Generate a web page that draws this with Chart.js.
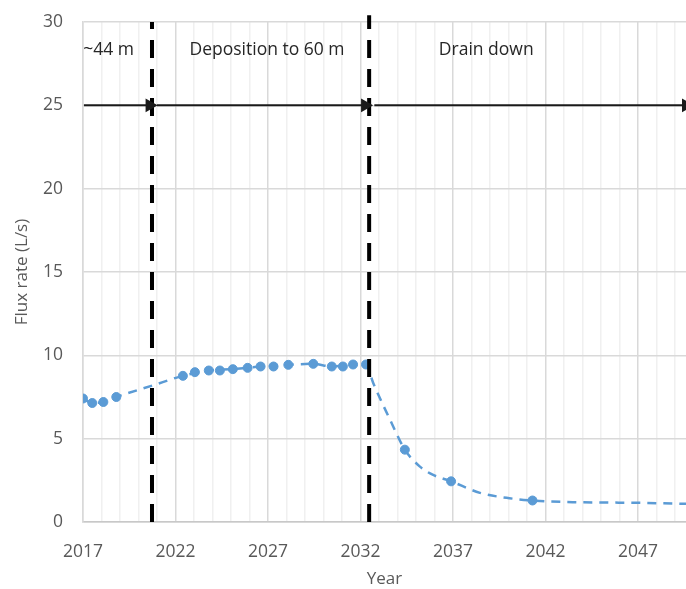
<!DOCTYPE html>
<html>
<head>
<meta charset="utf-8">
<script src="https://cdn.jsdelivr.net/npm/chart.js@4"></script>
<style>
  html, body { margin: 0; padding: 0; background: #fff; }
  #wrap { width: 686px; height: 589px; }
</style>
</head>
<body>
<div id="wrap"><canvas id="fluxChart" width="686" height="589"></canvas></div>
<script>
// Sampled flux points (markers)
const markerYears = [2017.0, 2017.5, 2018.1, 2018.8, 2022.4, 2023.05, 2023.8, 2024.4, 2025.1, 2025.9, 2026.6, 2027.3, 2028.1, 2029.45, 2030.45, 2031.05, 2031.6, 2032.3, 2034.4, 2036.9, 2041.3];
const markerFlux = [7.41, 7.14, 7.2, 7.5, 8.77, 8.99, 9.09, 9.09, 9.17, 9.25, 9.33, 9.33, 9.43, 9.49, 9.33, 9.33, 9.45, 9.45, 4.34, 2.44, 1.29];

// Dashed trend curve
const trendYears = [2017.0, 2017.5, 2018.1, 2018.8, 2020.76, 2022.4, 2023.8, 2025.1, 2026.6, 2028.1, 2029.45, 2030.45, 2031.6, 2032.3, 2032.69, 2033.6, 2034.4, 2035.2, 2035.9, 2036.9, 2038.46, 2039.9, 2041.3, 2043.5, 2047.1, 2049.6];
const trendFlux = [7.41, 7.14, 7.2, 7.5, 8.19, 8.77, 9.09, 9.17, 9.33, 9.43, 9.49, 9.33, 9.45, 9.45, 8.34, 6.14, 4.34, 3.34, 2.84, 2.44, 1.75, 1.45, 1.29, 1.19, 1.15, 1.09];

// Phase boundaries and phase arrows (year ranges at flux 25)
const phaseBoundaries = [2020.73, 2032.47];
const arrowStarts = [2017.05, 2021.0, 2032.75];
const arrowEnds = [2020.6, 2032.25, 2049.6];
const arrowLevel = 25;

// Phase names
const phaseNames = ['~44 m', 'Deposition to 60 m', 'Drain down'];
const phaseNameYears = [2018.38, 2026.95, 2038.8];
const phaseNameLevel = 28.3;

// Axis ticks
const xMin = 2017, xMax = 2049.6;
const yTicks = [0, 5, 10, 15, 20, 25, 30];

const toPoints = (xs, ys) => xs.map((x, i) => ({ x: x, y: ys[i] }));

const datasets = [];
datasets.push({
    label: 'trend',
    data: toPoints(trendYears, trendFlux),
    borderColor: '#5b9bd5',
    borderWidth: 2.5,
    borderDash: [9, 7],
    pointRadius: 0,
    cubicInterpolationMode: 'monotone',
    fill: false,
    order: 3
});
datasets.push({
    label: 'flux',
    data: toPoints(markerYears, markerFlux),
    showLine: false,
    pointRadius: 4.5,
    pointBackgroundColor: '#5b9bd5',
    pointBorderColor: '#5b9bd5',
    order: 2
});
phaseBoundaries.forEach((yr, i) => {
    datasets.push({
        label: 'boundary' + i,
        data: [{ x: yr, y: 0 }, { x: yr, y: i === 1 ? 30.4 : 30 }],
        borderColor: '#000',
        borderWidth: 4,
        borderDash: [18, 11],
        pointRadius: 0,
        clip: false,
        order: 1
    });
});
arrowStarts.forEach((s, i) => {
    datasets.push({
        label: 'arrow' + i,
        data: [{ x: s, y: arrowLevel }, { x: arrowEnds[i], y: arrowLevel }],
        borderColor: '#1a1a1a',
        borderWidth: 2,
        pointStyle: 'triangle',
        rotation: 90,
        pointRadius: [0, 6],
        pointBackgroundColor: '#1a1a1a',
        pointBorderColor: '#1a1a1a',
        clip: false,
        order: 0
    });
});

// Draw the phase names at their scale positions
const phaseText = {
    id: 'phaseText',
    afterDatasetsDraw(chart) {
        const c = chart.ctx;
        const xs = chart.scales.x, ys = chart.scales.y;
        c.save();
        c.font = '17.5px "Open Sans"';
        c.fillStyle = '#262626';
        c.textAlign = 'center';
        c.textBaseline = 'middle';
        phaseNames.forEach((t, i) => {
            c.fillText(t, xs.getPixelForValue(phaseNameYears[i]), ys.getPixelForValue(phaseNameLevel));
        });
        c.restore();
    }
};

const ctx = document.getElementById('fluxChart').getContext('2d');
const fluxChart = new Chart(ctx, {
    type: 'line',
    data: { datasets: datasets },
    options: {
        responsive: false,
        animation: false,
        layout: { autoPadding: false, padding: { top: 22, right: 0, left: 0, bottom: 0 } },
        plugins: {
            legend: { display: false },
            tooltip: { enabled: false }
        },
        scales: {
            x: {
                type: 'linear',
                min: xMin,
                max: xMax,
                afterBuildTicks: (scale) => {
                    const t = [];
                    for (let v = 2017; v <= 2049; v++) t.push({ value: v });
                    scale.ticks = t;
                },
                afterFit: (scale) => {
                    scale.height = 67;
                    scale.paddingLeft = 0;
                    scale.paddingRight = 0;
                },
                ticks: {
                    autoSkip: false,
                    maxRotation: 0,
                    padding: 20,
                    color: '#595959',
                    font: { family: 'Open Sans', size: 17.5 },
                    callback: (v) => ((v - 2017) % 5 === 0 ? String(v) : '')
                },
                grid: {
                    drawTicks: false,
                    color: (c) => (c.tick && (c.tick.value - 2017) % 5 === 0 ? '#d9d9d9' : '#f0f0f0'),
                    lineWidth: 1.5
                },
                border: { color: '#c8c8c8', width: 1.5 },
                title: {
                    display: true,
                    text: 'Year',
                    color: '#595959',
                    font: { family: 'Open Sans', size: 17 },
                    padding: { top: 14, bottom: 0 }
                }
            },
            y: {
                min: 0,
                max: 30,
                afterBuildTicks: (scale) => {
                    scale.ticks = yTicks.map(v => ({ value: v }));
                },
                afterFit: (scale) => {
                    scale.width = 83;
                    scale.paddingTop = 0;
                    scale.paddingBottom = 0;
                },
                ticks: {
                    padding: 20,
                    color: '#595959',
                    font: { family: 'Open Sans', size: 17.5 }
                },
                grid: { drawTicks: false, color: '#d9d9d9', lineWidth: 1.5 },
                border: { color: '#d9d9d9', width: 1.5 },
                title: {
                    display: true,
                    text: 'Flux rate (L/s)',
                    color: '#595959',
                    font: { family: 'Open Sans', size: 17 },
                    padding: { top: 12, bottom: 0 }
                }
            }
        }
    },
    plugins: [phaseText]
});
</script>
</body>
</html>
